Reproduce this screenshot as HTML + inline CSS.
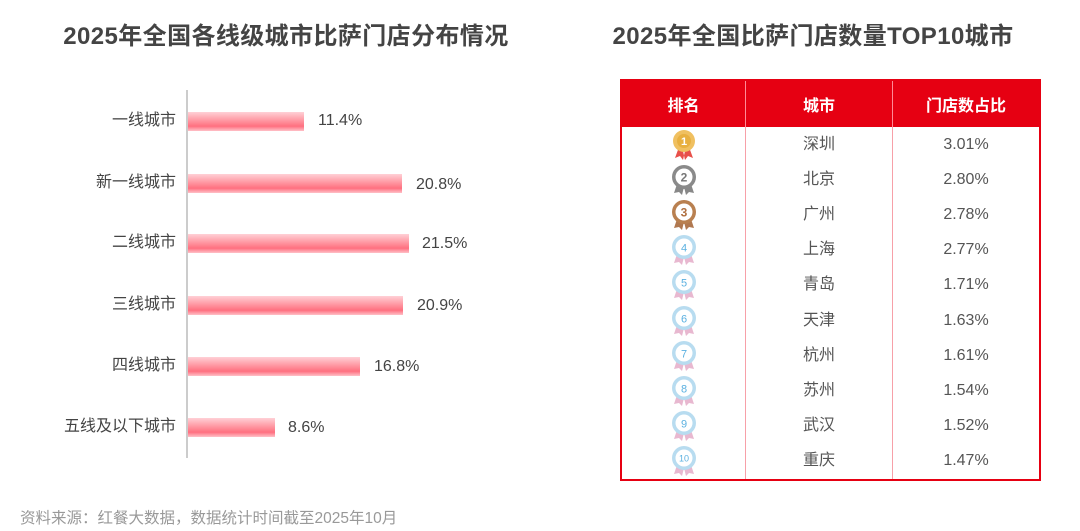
<!DOCTYPE html>
<html><head><meta charset="utf-8"><style>
body{margin:0;width:1080px;height:531px;background:#fff;position:relative;overflow:hidden;font-family:"Liberation Sans","Noto Sans CJK SC",sans-serif;color:#555}
.t{position:absolute;top:16px;font-weight:bold;font-size:24px;color:#444;letter-spacing:0.4px;white-space:nowrap;text-align:center}
.lab{position:absolute;right:904px;font-size:16px;color:#444;white-space:nowrap;line-height:20px}
.bar{position:absolute;left:188px;height:19px;background:linear-gradient(#ffd0d6,#ff8a96 55%,#ff7080 75%,#ffc0c8)}
.val{position:absolute;font-size:16px;color:#444;line-height:20px}
table{position:absolute;left:620px;top:79px;width:421px;border-collapse:collapse;border:2px solid #e60012}
th{background:#e60012;color:#fff;height:46px;font-size:16px;font-weight:bold;padding:0;border-right:1px solid #ff8a96}
td{height:35.2px;padding:0;text-align:center;vertical-align:middle;font-size:16px;color:#555;border-right:1px solid #f7a0a8;line-height:20px}
td svg{display:block;margin:0 auto}
</style></head><body>
<div class="t" style="left:56px;width:460px">2025年全国各线级城市比萨门店分布情况</div>
<div class="t" style="left:598px;width:430px">2025年全国比萨门店数量TOP10城市</div>
<div style="position:absolute;left:186px;top:90px;width:1.5px;height:368px;background:#ccc"></div>
<div class="lab" style="top:111px">一线城市</div><div class="bar" style="top:112px;width:116px"></div><div class="val" style="left:318px;top:111px">11.4%</div>
<div class="lab" style="top:173px">新一线城市</div><div class="bar" style="top:174px;width:214px"></div><div class="val" style="left:416px;top:175px">20.8%</div>
<div class="lab" style="top:233px">二线城市</div><div class="bar" style="top:234px;width:221px"></div><div class="val" style="left:422px;top:234px">21.5%</div>
<div class="lab" style="top:295px">三线城市</div><div class="bar" style="top:296px;width:215px"></div><div class="val" style="left:417px;top:296px">20.9%</div>
<div class="lab" style="top:356px">四线城市</div><div class="bar" style="top:357px;width:172px"></div><div class="val" style="left:374px;top:357px">16.8%</div>
<div class="lab" style="top:417px">五线及以下城市</div><div class="bar" style="top:418px;width:87px"></div><div class="val" style="left:288px;top:418px">8.6%</div>
<div style="position:absolute;left:20px;top:506px;font-size:15.5px;color:#999;white-space:nowrap">资料来源：红餐大数据，数据统计时间截至2025年10月</div>
<table>
<tr><th style="width:123px">排名</th><th style="width:146px">城市</th><th style="border-right:none">门店数占比</th></tr>
<tr><td><svg width="26" height="32"><path d="M8 18l-4 11 5-2 3 4 2-9zM18 18l4 11-5-2-3 4-2-9z" fill="#e8504a"/><circle cx="13" cy="12" r="11" fill="#f0c060"/><circle cx="13" cy="12" r="7" fill="#e8b040"/><text x="13" y="16" font-size="11" fill="#fff" text-anchor="middle" font-weight="bold">1</text></svg></td><td>深圳</td><td style="border:none">3.01%</td></tr>
<tr><td><svg width="26" height="32"><path d="M6 20l-3 9 5-1 3 3 2-8zM20 20l3 9-5-1-3 3-2-8z" fill="#888"/><circle cx="13" cy="13" r="12" fill="#8a8a8a"/><circle cx="13" cy="13" r="8.5" fill="#fff"/><text x="13" y="17.5" font-size="12" fill="#777" text-anchor="middle" font-weight="bold">2</text></svg></td><td>北京</td><td style="border:none">2.80%</td></tr>
<tr><td><svg width="26" height="32"><path d="M6 20l-3 9 5-1 3 3 2-8zM20 20l3 9-5-1-3 3-2-8z" fill="#b07850"/><circle cx="13" cy="13" r="12" fill="#b98050"/><circle cx="13" cy="13" r="8.5" fill="#fff"/><text x="13" y="17.5" font-size="12" fill="#b07040" text-anchor="middle" font-weight="bold">3</text></svg></td><td>广州</td><td style="border:none">2.78%</td></tr>
<tr><td><svg width="26" height="32"><path d="M6 20l-3 9 5-1 3 3 2-8zM20 20l3 9-5-1-3 3-2-8z" fill="#e8b8d0"/><circle cx="13" cy="13" r="12" fill="#b8dcf0"/><circle cx="13" cy="13" r="8.5" fill="#fff"/><text x="13" y="17.5" font-size="11" fill="#5ab0e0" text-anchor="middle">4</text></svg></td><td>上海</td><td style="border:none">2.77%</td></tr>
<tr><td><svg width="26" height="32"><path d="M6 20l-3 9 5-1 3 3 2-8zM20 20l3 9-5-1-3 3-2-8z" fill="#e8b8d0"/><circle cx="13" cy="13" r="12" fill="#b8dcf0"/><circle cx="13" cy="13" r="8.5" fill="#fff"/><text x="13" y="17.5" font-size="11" fill="#5ab0e0" text-anchor="middle">5</text></svg></td><td>青岛</td><td style="border:none">1.71%</td></tr>
<tr><td><svg width="26" height="32"><path d="M6 20l-3 9 5-1 3 3 2-8zM20 20l3 9-5-1-3 3-2-8z" fill="#e8b8d0"/><circle cx="13" cy="13" r="12" fill="#b8dcf0"/><circle cx="13" cy="13" r="8.5" fill="#fff"/><text x="13" y="17.5" font-size="11" fill="#5ab0e0" text-anchor="middle">6</text></svg></td><td>天津</td><td style="border:none">1.63%</td></tr>
<tr><td><svg width="26" height="32"><path d="M6 20l-3 9 5-1 3 3 2-8zM20 20l3 9-5-1-3 3-2-8z" fill="#e8b8d0"/><circle cx="13" cy="13" r="12" fill="#b8dcf0"/><circle cx="13" cy="13" r="8.5" fill="#fff"/><text x="13" y="17.5" font-size="11" fill="#5ab0e0" text-anchor="middle">7</text></svg></td><td>杭州</td><td style="border:none">1.61%</td></tr>
<tr><td><svg width="26" height="32"><path d="M6 20l-3 9 5-1 3 3 2-8zM20 20l3 9-5-1-3 3-2-8z" fill="#e8b8d0"/><circle cx="13" cy="13" r="12" fill="#b8dcf0"/><circle cx="13" cy="13" r="8.5" fill="#fff"/><text x="13" y="17.5" font-size="11" fill="#5ab0e0" text-anchor="middle">8</text></svg></td><td>苏州</td><td style="border:none">1.54%</td></tr>
<tr><td><svg width="26" height="32"><path d="M6 20l-3 9 5-1 3 3 2-8zM20 20l3 9-5-1-3 3-2-8z" fill="#e8b8d0"/><circle cx="13" cy="13" r="12" fill="#b8dcf0"/><circle cx="13" cy="13" r="8.5" fill="#fff"/><text x="13" y="17.5" font-size="11" fill="#5ab0e0" text-anchor="middle">9</text></svg></td><td>武汉</td><td style="border:none">1.52%</td></tr>
<tr><td><svg width="26" height="32"><path d="M6 20l-3 9 5-1 3 3 2-8zM20 20l3 9-5-1-3 3-2-8z" fill="#e8b8d0"/><circle cx="13" cy="13" r="12" fill="#b8dcf0"/><circle cx="13" cy="13" r="8.5" fill="#fff"/><text x="13" y="16.5" font-size="9" fill="#5ab0e0" text-anchor="middle">10</text></svg></td><td>重庆</td><td style="border:none">1.47%</td></tr>
</table>
</body></html>
